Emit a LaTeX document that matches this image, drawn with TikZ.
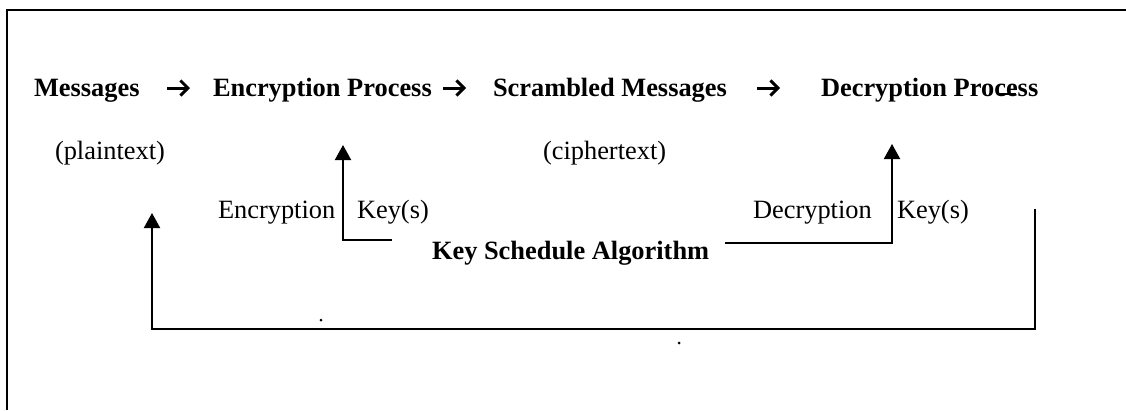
\documentclass[tikz,border=0pt]{standalone}
\usepackage{fontspec}
\setmainfont{Liberation Serif}
\usetikzlibrary{arrows.meta}
\tikzset{
  lbl/.style={anchor=base west, inner sep=0pt, outer sep=0pt, font=\fontsize{26.4}{30}\selectfont},
  blbl/.style={lbl, font=\fontsize{26.4}{30}\selectfont\bfseries},
  conn/.style={line width=2pt, -{Triangle[length=15pt,width=16pt]}},
  chev/.style={line width=3pt, -{Straight Barb[length=7.5pt,width=15pt,line width=3pt]}},
  frame/.style={line width=2pt}
}
\begin{document}
\begin{tikzpicture}[x=1pt,y=-1pt]
\useasboundingbox (0,0) rectangle (1126,410);
\fill[white] (0,0) rectangle (1126,410);

% outer frame (only its top and left sides fall on the page)
\draw[frame] (7,410) -- (7,9.5) -- (1126,9.5);

% top row: the flow of a message
\node[blbl] (msg) at (34,96) {Messages};
\node[blbl] (enc) at (213,96) {Encryption Process};
\node[blbl] (scr) at (493,96) {Scrambled Messages};
\node[blbl] (dec) at (821,96) {Decryption Process};

\coordinate (a1s) at (167,88); \coordinate (a1e) at (190,88);
\coordinate (a2s) at (443,88); \coordinate (a2e) at (466,88);
\coordinate (a3s) at (757,88); \coordinate (a3e) at (780,88);
\draw[chev] (a1s) -- (a1e);
\draw[chev] (a2s) -- (a2e);
\draw[chev] (a3s) -- (a3e);

% short stroke under "ce"
\coordinate (us) at (997,94); \coordinate (ue) at (1016,94);
\draw[line width=1.3pt] (us) -- (ue);

% second row
\node[lbl] (pt) at (55,159) {(plaintext)};
\node[lbl] (ct) at (543,159) {(ciphertext)};

% key labels
\node[lbl] (ekl) at (218,218) {Encryption};
\node[lbl] (ekr) at (357,218) {Key(s)};
\node[lbl] (dkl) at (753,218) {Decryption};
\node[lbl] (dkr) at (897,218) {Key(s)};

\node[blbl] (ksa) at (432,259) {Key Schedule Algorithm};

% key schedule to encryption
\coordinate (eks) at (392,240);
\coordinate (ekc) at (343,240);
\coordinate (ekt) at (343,145);
\draw[conn] (eks) -- (ekc) -- (ekt);

% key schedule to decryption
\coordinate (dks) at (725,243);
\coordinate (dkc) at (892,243);
\coordinate (dkt) at (892,144);
\draw[conn] (dks) -- (dkc) -- (dkt);

% return loop back to the messages
\coordinate (ls) at (1035,209);
\coordinate (lc1) at (1035,329);
\coordinate (lc2) at (152,329);
\coordinate (lt) at (152,213);
\draw[conn] (ls) -- (lc1) -- (lc2) -- (lt);

% two small dots
\fill (321,320) circle (1.5);
\fill (679,343) circle (1.5);
\end{tikzpicture}
\end{document}
